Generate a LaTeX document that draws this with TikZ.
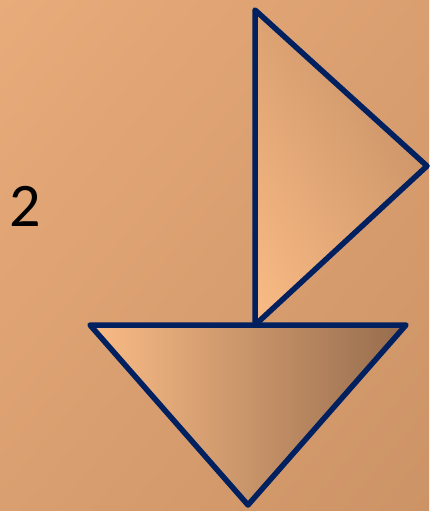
\documentclass[tikz,border=0pt]{standalone}
\usepackage{fontspec}
\setmainfont{Carlito}
\usetikzlibrary{shadings}
\definecolor{navyline}{HTML}{002060}
\definecolor{bgtl}{HTML}{E8AB7A}
\definecolor{bgbr}{HTML}{CC9366}
\definecolor{peachlt}{HTML}{FABC86}
\definecolor{sailmid}{HTML}{DDA272}
\definecolor{saildk}{HTML}{BF8B62}
\definecolor{hullmid}{HTML}{D9A070}
\definecolor{hulldk}{HTML}{966C4D}
\begin{document}
\begin{tikzpicture}[x=1pt,y=-1pt,
  outline/.style={draw=navyline,line width=5.5pt,line join=round},
  sailfill/.style={upper left=sailmid,upper right=saildk,lower left=peachlt,lower right=sailmid},
  hullfill/.style={left color=peachlt,middle color=hullmid,right color=hulldk},
  numlabel/.style={font=\fontsize{62}{62}\selectfont,text=black,inner sep=0pt},
]
% background
\shade[upper left=bgtl,upper right=bgtl!50!bgbr,lower left=bgtl!50!bgbr,lower right=bgbr]
  (0,0) rectangle (429,511);
\useasboundingbox (0,0) rectangle (429,511);

% sail
\coordinate (masttop) at (255,10);
\coordinate (sailtip) at (427,166);
\coordinate (mastfoot) at (255,325);
\shade[sailfill] (masttop) -- (sailtip) -- (mastfoot) -- cycle;
\draw[outline] (masttop) -- (sailtip) -- (mastfoot) -- cycle;

% hull
\coordinate (bowleft) at (90,325);
\coordinate (bowright) at (406,325);
\coordinate (keel) at (248,505);
\shade[hullfill] (bowleft) -- (bowright) -- (keel) -- cycle;
\draw[outline] (bowleft) -- (bowright) -- (keel) -- cycle;

\node[numlabel] (num) at (25,206) {2};
\end{tikzpicture}
\end{document}
